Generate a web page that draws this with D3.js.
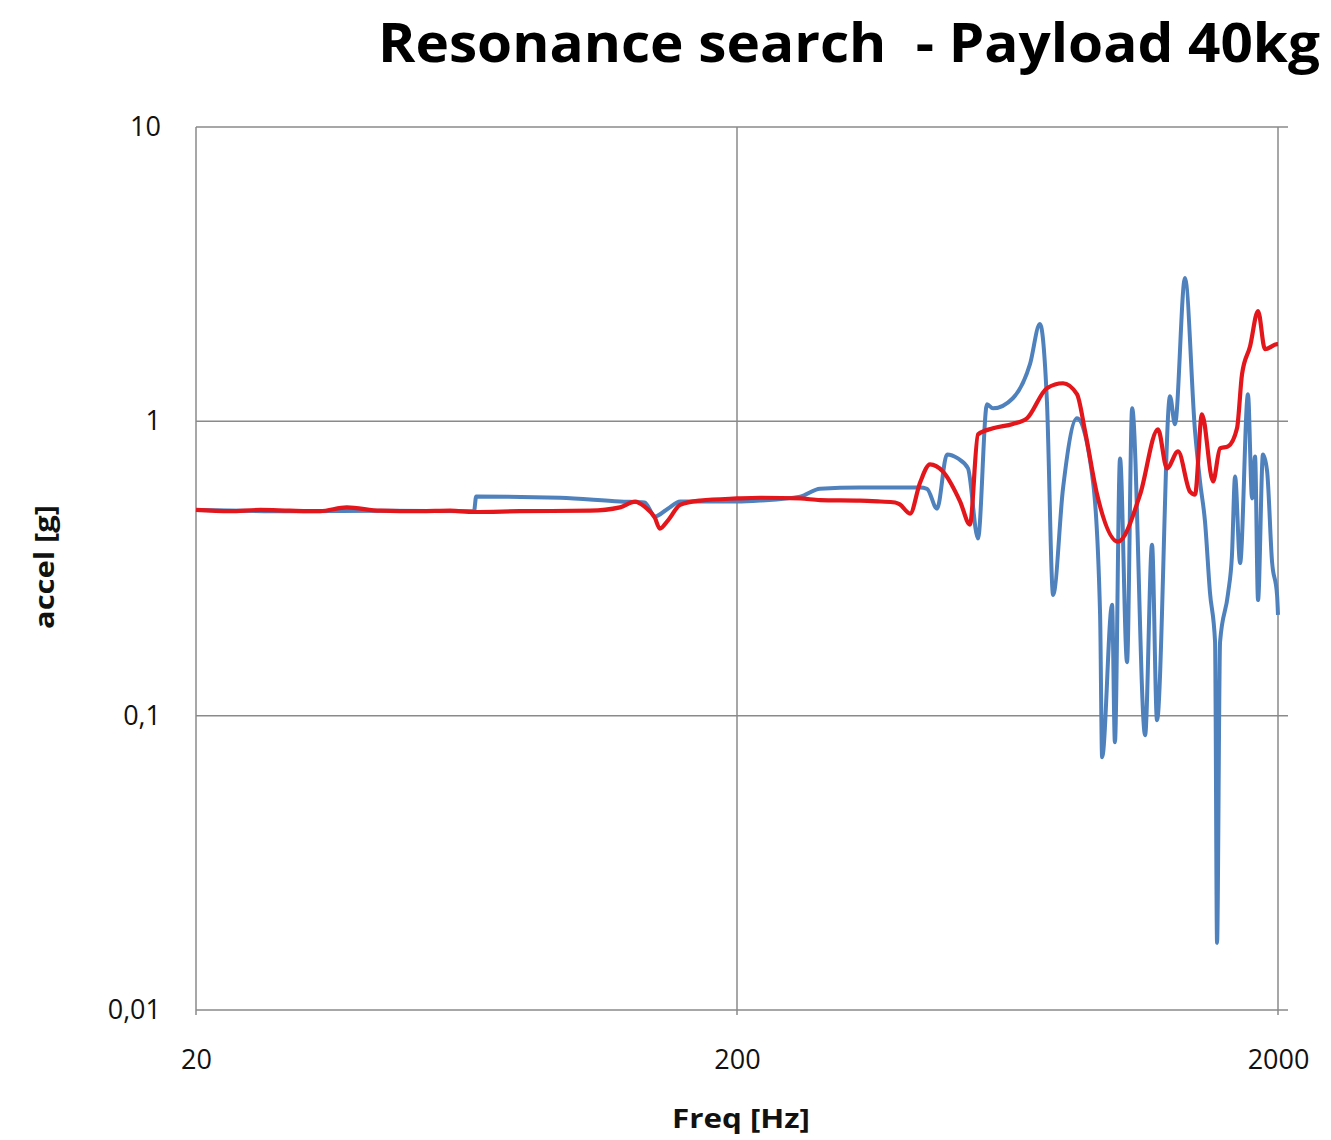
<!DOCTYPE html>
<html>
<head>
<meta charset="utf-8">
<script src="https://cdn.jsdelivr.net/npm/d3@7"></script>
<style>
  body { margin: 0; background: #fff; }
  text { font-family: "Open Sans", "DejaVu Sans", sans-serif; }
</style>
</head>
<body>
<div id="chart"></div>
<script>
// Axis ticks
const xTicks = [20, 200, 2000];
const xTickLabels = ['20', '200', '2000'];
const yTicks = [10, 1, 0.1, 0.01];
const yTickLabels = ['10', '1', '0,1', '0,01'];

// Blue series [Hz, g]
const blueSeries = [
  [20, 0.50], [30, 0.495], [45, 0.497], [65.3, 0.495], [65.9, 0.555], [94.2, 0.55],
  [121.5, 0.534], [135, 0.53], [141, 0.475], [149, 0.505], [157, 0.534], [200, 0.534],
  [220.6, 0.538], [261.7, 0.555], [284.8, 0.59], [337.6, 0.596], [400, 0.596], [436, 0.596],
  [449, 0.59], [468.6, 0.505], [489, 0.772], [512, 0.748], [534.6, 0.692], [557.8, 0.40],
  [579.6, 1.143], [594.6, 1.107], [647, 1.198], [696, 1.564], [726, 2.141], [748, 1.17],
  [768, 0.257], [801, 0.591], [850, 1.024], [910, 0.625], [938, 0.22], [946, 0.0722],
  [987, 0.238], [999, 0.0812], [1021, 0.748], [1052, 0.152], [1075, 1.107], [1136, 0.0858],
  [1170, 0.381], [1195, 0.0965], [1263, 1.217], [1290, 0.977], [1346, 3.07], [1405, 0.924],
  [1435, 0.625], [1466, 0.456], [1497, 0.263], [1530, 0.178], [1543, 0.0169], [1563, 0.178],
  [1617, 0.26], [1644, 0.35], [1666, 0.65], [1702, 0.33], [1760, 1.236], [1791, 0.547],
  [1814, 0.76], [1837, 0.247], [1876, 0.772], [1909, 0.68], [1950, 0.333], [1992, 0.257],
  [2000, 0.22]
];

// Red series [Hz, g]
const redSeries = [
  [20, 0.50], [23.1, 0.495], [26.3, 0.50], [29.8, 0.497], [33.9, 0.495], [38.0, 0.51],
  [43.8, 0.497], [51.9, 0.495], [59.0, 0.497], [65.3, 0.492], [79.4, 0.495], [107, 0.497],
  [121.5, 0.51], [129.6, 0.534], [135, 0.513], [141, 0.47], [144, 0.432], [149, 0.46],
  [157, 0.52], [171, 0.538], [200, 0.547], [220.6, 0.55], [261.7, 0.547], [284.8, 0.54],
  [337.6, 0.538], [367.7, 0.534], [392, 0.53], [400, 0.522], [417.8, 0.486], [436, 0.62],
  [454.8, 0.714], [480.6, 0.675], [517, 0.534], [539, 0.446], [557.8, 0.903], [594.6, 0.947],
  [647, 0.98], [687, 1.024], [748, 1.296], [801, 1.347], [850, 1.236], [880, 0.924],
  [926, 0.564], [1012, 0.39], [1112, 0.564], [1200, 0.939], [1247, 0.692], [1307, 0.79],
  [1375, 0.577], [1405, 0.564], [1447, 1.056], [1517, 0.625], [1563, 0.809], [1617, 0.822],
  [1680, 0.947], [1716, 1.446], [1776, 1.80], [1837, 2.371], [1892, 1.759], [1992, 1.829],
  [2000, 1.83]
];

const W = 1331, H = 1140;
const plot = { left: 196, right: 1278, top: 127, bottom: 1010 };

const svg = d3.select('#chart')
  .append('svg')
  .attr('width', W)
  .attr('height', H);

const x = d3.scaleLog().domain([20, 2000]).range([plot.left, plot.right]);
const y = d3.scaleLog().domain([0.01, 10]).range([plot.bottom, plot.top]);

// Horizontal gridlines
svg.append('g')
  .selectAll('line')
  .data(yTicks)
  .enter()
  .append('line')
  .attr('x1', plot.left)
  .attr('x2', plot.right + 10)
  .attr('y1', d => y(d))
  .attr('y2', d => y(d))
  .attr('stroke', '#8a8a8a')
  .attr('stroke-width', 1.5);

// Vertical gridlines
svg.append('g')
  .selectAll('line')
  .data(xTicks)
  .enter()
  .append('line')
  .attr('x1', d => x(d))
  .attr('x2', d => x(d))
  .attr('y1', plot.top)
  .attr('y2', plot.bottom + 5)
  .attr('stroke', '#8a8a8a')
  .attr('stroke-width', 1.5);

// Y axis labels
const yAxis = svg.append('g')
  .attr('transform', `translate(${plot.left},0)`)
  .call(d3.axisLeft(y).tickValues(yTicks).tickSize(0).tickPadding(35)
    .tickFormat((d, i) => yTickLabels[i]));
yAxis.select('.domain').remove();
yAxis.selectAll('text')
  .style('font-family', '"Open Sans", sans-serif')
  .style('font-size', '27px')
  .attr('fill', '#111');

// X axis labels
const xAxis = svg.append('g')
  .attr('transform', `translate(0,${plot.bottom})`)
  .call(d3.axisBottom(x).tickValues(xTicks).tickSize(0).tickPadding(40)
    .tickFormat((d, i) => xTickLabels[i]));
xAxis.select('.domain').remove();
xAxis.selectAll('text')
  .style('font-family', '"Open Sans", sans-serif')
  .style('font-size', '27px')
  .attr('fill', '#111');

// Series lines
const line = d3.line()
  .x(d => x(d[0]))
  .y(d => y(d[1]))
  .curve(d3.curveMonotoneX);

svg.append('path')
  .datum(blueSeries)
  .attr('d', line)
  .attr('fill', 'none')
  .attr('stroke', '#4f81bd')
  .attr('stroke-width', 4)
  .attr('stroke-linejoin', 'round');

svg.append('path')
  .datum(redSeries)
  .attr('d', line)
  .attr('fill', 'none')
  .attr('stroke', '#e3161c')
  .attr('stroke-width', 4.2)
  .attr('stroke-linejoin', 'round');

// Title
svg.append('text')
  .attr('x', 378)
  .attr('y', 62)
  .attr('textLength', 942)
  .attr('lengthAdjust', 'spacingAndGlyphs')
  .style('font-size', '54px')
  .style('font-weight', 'bold')
  .style('white-space', 'pre')
  .attr('fill', '#000')
  .text('Resonance search  - Payload 40kg');

// Axis titles
svg.append('text')
  .attr('x', 741)
  .attr('y', 1128)
  .attr('text-anchor', 'middle')
  .attr('textLength', 138)
  .attr('lengthAdjust', 'spacingAndGlyphs')
  .style('font-size', '26px')
  .style('font-weight', 'bold')
  .attr('fill', '#111')
  .text('Freq [Hz]');

svg.append('text')
  .attr('transform', 'translate(54,567) rotate(-90)')
  .attr('text-anchor', 'middle')
  .attr('textLength', 124)
  .attr('lengthAdjust', 'spacingAndGlyphs')
  .style('font-size', '26px')
  .style('font-weight', 'bold')
  .attr('fill', '#111')
  .text('accel [g]');
</script>
</body>
</html>
